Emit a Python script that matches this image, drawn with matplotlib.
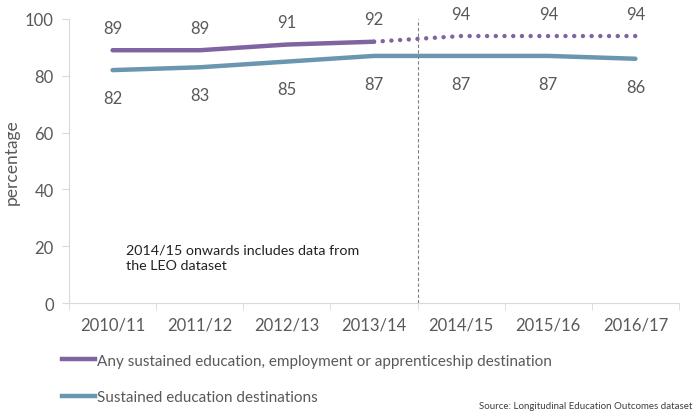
import matplotlib
matplotlib.use("Agg")
from matplotlib import pyplot as plt
from matplotlib.lines import Line2D

plt.rcParams["font.family"] = ["Lato", "DejaVu Sans"]

anos = ["2010/11", "2011/12", "2012/13", "2013/14", "2014/15", "2015/16", "2016/17"]
cualquier_destino = [89, 89, 91, 92, 94, 94, 94]
educacion = [82, 83, 85, 87, 87, 87, 86]
# a partir de 2014/15 los datos incluyen LEO: tramo punteado
corte = 3

MORADO = "#8064a2"
AZUL = "#6a96b0"
GRIS = "#595959"

fig = plt.figure(figsize=(6.93, 4.14), dpi=100)
ax = fig.add_axes([0.0996, 0.2657, 0.8802, 0.686])

x = list(range(len(anos)))
ax.plot(x[:corte + 1], cualquier_destino[:corte + 1], color=MORADO, lw=3.2,
        solid_capstyle="round")
ax.plot(x[corte:], cualquier_destino[corte:], color=MORADO, lw=3.2,
        linestyle=(0, (0.01, 1.95)), dash_capstyle="round")
ax.plot(x, educacion, color=AZUL, lw=3.2, solid_capstyle="round")

for i in x:
    ax.annotate(str(cualquier_destino[i]), (i, cualquier_destino[i]),
                xytext=(0, 16), textcoords="offset points", ha="center",
                va="center", fontsize=12, color=GRIS)
    ax.annotate(str(educacion[i]), (i, educacion[i]),
                xytext=(0, -20), textcoords="offset points", ha="center",
                va="center", fontsize=12, color=GRIS)

ax.axvline(corte + 0.5, color="#808080", lw=0.8, linestyle=(0, (3, 2)))
ax.text(0.15, 16, "2014/15 onwards includes data from\nthe LEO dataset",
        fontsize=10.3, color="#222222", va="center", linespacing=1.35)

ax.set_xlim(-0.5, len(anos) - 0.5)
ax.set_ylim(0, 100)
ax.set_yticks(range(0, 101, 20))
ax.set_xticks(x)
ax.set_xticklabels(anos)
ax.set_xticks([i - 0.5 for i in range(len(anos) + 1)], minor=True)
ax.tick_params(axis="x", which="major", length=0, pad=10, labelsize=12,
               labelcolor=GRIS)
ax.tick_params(axis="x", which="minor", length=5, color="#d9d9d9")
ax.tick_params(axis="y", length=5, color="#d9d9d9", labelsize=12,
               labelcolor=GRIS, pad=6)
for lado in ["top", "right"]:
    ax.spines[lado].set_visible(False)
for lado in ["left", "bottom"]:
    ax.spines[lado].set_color("#d9d9d9")
ax.set_ylabel("percentage", fontsize=12.5, color=GRIS, labelpad=4)

manejadores = [Line2D([], [], color=MORADO, lw=3.2),
               Line2D([], [], color=AZUL, lw=3.2)]
fig.legend(manejadores,
           ["Any sustained education, employment or apprenticeship destination",
            "Sustained education destinations"],
           loc="upper left", bbox_to_anchor=(0.08, 0.158), frameon=False,
           fontsize=11, labelcolor=GRIS, handlelength=2.2, handletextpad=0.1,
           labelspacing=1.45, borderaxespad=0)

fig.text(0.999, 0.008, "Source: Longitudinal Education Outcomes dataset",
         ha="right", va="bottom", fontsize=7, color="#404040")

fig.savefig("out.png", dpi=100)
